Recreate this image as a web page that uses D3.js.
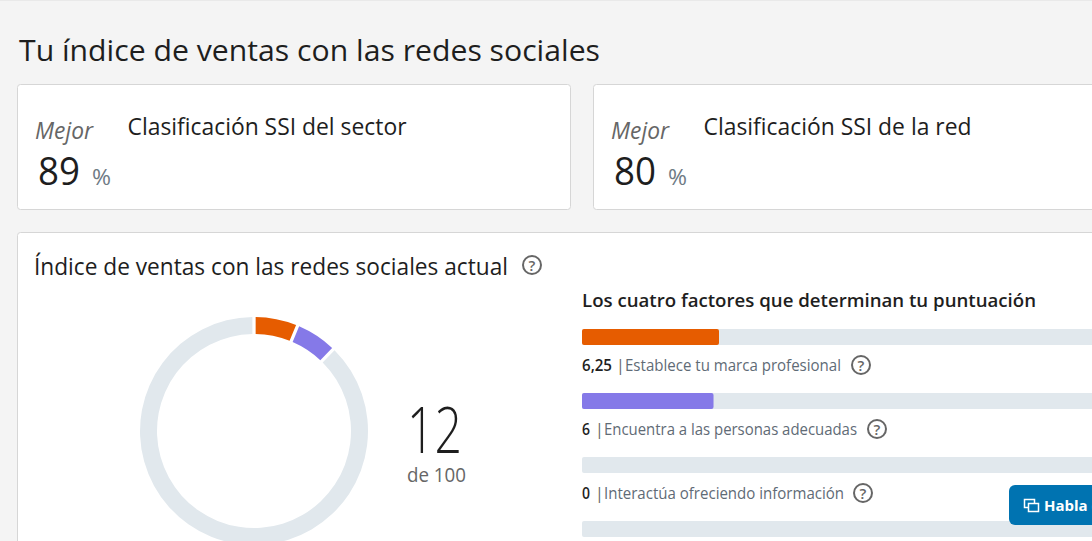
<!DOCTYPE html>
<html lang="es"><head><meta charset="utf-8">
<script src="https://cdn.jsdelivr.net/npm/d3@7/dist/d3.min.js"></script>
<style>html,body{margin:0;padding:0;background:#f4f4f4;overflow:hidden}svg{display:block}text{font-family:"Open Sans","Noto Sans",sans-serif}</style>
</head><body><svg id="c" width="1092" height="541"></svg>
<script>
const pageTitle = "Tu índice de ventas con las redes sociales";
const rankLabels = ["Clasificación SSI del sector", "Clasificación SSI de la red"];
const rankValues = [89, 80];
const factorLabels = ["Establece tu marca profesional", "Encuentra a las personas adecuadas", "Interactúa ofreciendo información"];
const factorValues = [6.25, 6, 0, 0];
const factorColors = ["#e65c00", "#8579e8", "#8579e8", "#8579e8"];
const totalScore = 12;
const factorMax = 25;
const scoreMax = 100;

const svg = d3.select("#c");
const ink = "#1e1e1e", grey = "#666666", track = "#e1e8ed";

function txt(g, s, x, y, size, fill, w, o = {}) {
  const t = g.append("text").attr("x", x).attr("y", y).attr("font-size", size).attr("fill", fill).text(s);
  if (w) t.attr("textLength", w).attr("lengthAdjust", "spacingAndGlyphs");
  if (o.weight) t.attr("font-weight", o.weight);
  if (o.style) t.attr("font-style", o.style);
  if (o.family) t.style("font-family", o.family);
  return t;
}
function card(x, y, w, h) {
  svg.append("rect").attr("x", x).attr("y", y).attr("width", w).attr("height", h).attr("rx", 3)
    .attr("fill", "#fff").attr("stroke", "#d6d6d6");
}
function help(cx, cy) {
  svg.append("circle").attr("cx", cx).attr("cy", cy).attr("r", 9).attr("fill", "none").attr("stroke", grey).attr("stroke-width", 2);
  txt(svg, "?", cx, cy + 5.5, 15, grey, null, {weight: 600}).attr("text-anchor", "middle");
}

svg.append("rect").attr("width", 1092).attr("height", 1).attr("fill", "#e9e9e9");
txt(svg, pageTitle, 19, 61, 29.5, ink, 581);

// ranking cards
rankLabels.forEach((lab, i) => {
  const dx = i * 576;
  card(17.5 + dx, 84.5, 553, 125);
  txt(svg, "Mejor", 35 + dx, 138.5, 23, grey, 58, {style: "italic"});
  txt(svg, rankValues[i], 38 + dx, 185, 39, ink, 42);
  txt(svg, "%", 92 + dx, 185, 22, "#6f7b85", 19);
  txt(svg, lab, 127.5 + dx, 135, 23, ink, i ? 268 : 279);
});

// main card
card(17.5, 232.5, 1100, 340);
txt(svg, "Índice de ventas con las redes sociales actual", 34, 275, 23, ink, 474);
help(532, 265);

// donut
const pie = d3.pie().sort(null).value(d => d.v);
const arc = d3.arc().innerRadius(97).outerRadius(114).padAngle(0.022);
const earned = d3.sum(factorValues);
const parts = factorValues.filter(v => v > 0).map((v, i) => ({v, c: factorColors[i]}))
  .concat([{v: scoreMax - earned, c: track}]);
svg.append("g").attr("transform", "translate(254,431)")
  .selectAll("path").data(pie(parts)).join("path").attr("d", arc).attr("fill", d => d.data.c);
txt(svg, totalScore, 407, 453, 65, ink, 55, {weight: 300});
txt(svg, "de " + scoreMax, 407, 482, 20, grey, 59);

// factor bars
txt(svg, "Los cuatro factores que determinan tu puntuación", 582, 307, 18, ink, 454, {weight: 600});
const xBar = d3.scaleLinear().domain([0, factorMax]).range([0, 548]);
const yBar = d3.scalePoint().domain(d3.range(factorValues.length)).range([329, 521]);
const bars = svg.append("g").attr("transform", "translate(582,0)");
bars.selectAll("rect.t").data(factorValues).join("rect").attr("class", "t")
  .attr("y", (d, i) => yBar(i)).attr("height", 16).attr("width", xBar(factorMax)).attr("rx", 2).attr("fill", track);
bars.selectAll("rect.v").data(factorValues).join("rect").attr("class", "v")
  .attr("y", (d, i) => yBar(i)).attr("height", 16).attr("width", d => xBar(d)).attr("rx", 2)
  .attr("fill", (d, i) => factorColors[i]);

const labelGeom = [[30, 216, 859], [9, 253, 875], [9, 240, 861]];
factorLabels.forEach((lab, i) => {
  const y = yBar(i) + 42, g = labelGeom[i];
  const num = String(factorValues[i]).replace(".", ",");
  txt(svg, num, 582, y, 16, ink, i ? 8 : 30, {weight: 600});
  txt(svg, "|", 582 + g[0] + 4, y, 16, grey);
  txt(svg, lab, 582 + g[0] + 13, y, 16, "#5f6b76", g[1]);
  help(g[2] + 2, y - 6);
});

// chat button
const bx = svg.append("g");
bx.append("rect").attr("x", 1009).attr("y", 485).attr("width", 120).attr("height", 40).attr("rx", 6).attr("fill", "#0073b1");
bx.append("rect").attr("x", 1024.5).attr("y", 499.5).attr("width", 10).attr("height", 8).attr("fill", "none").attr("stroke", "#fff").attr("stroke-width", 1.5);
bx.append("rect").attr("x", 1028.5).attr("y", 503.5).attr("width", 10).attr("height", 8).attr("fill", "#0073b1").attr("stroke", "#fff").attr("stroke-width", 1.5);
txt(bx, "Habla c", 1044, 511, 15, "#fff", null, {weight: 700});
</script></body></html>
